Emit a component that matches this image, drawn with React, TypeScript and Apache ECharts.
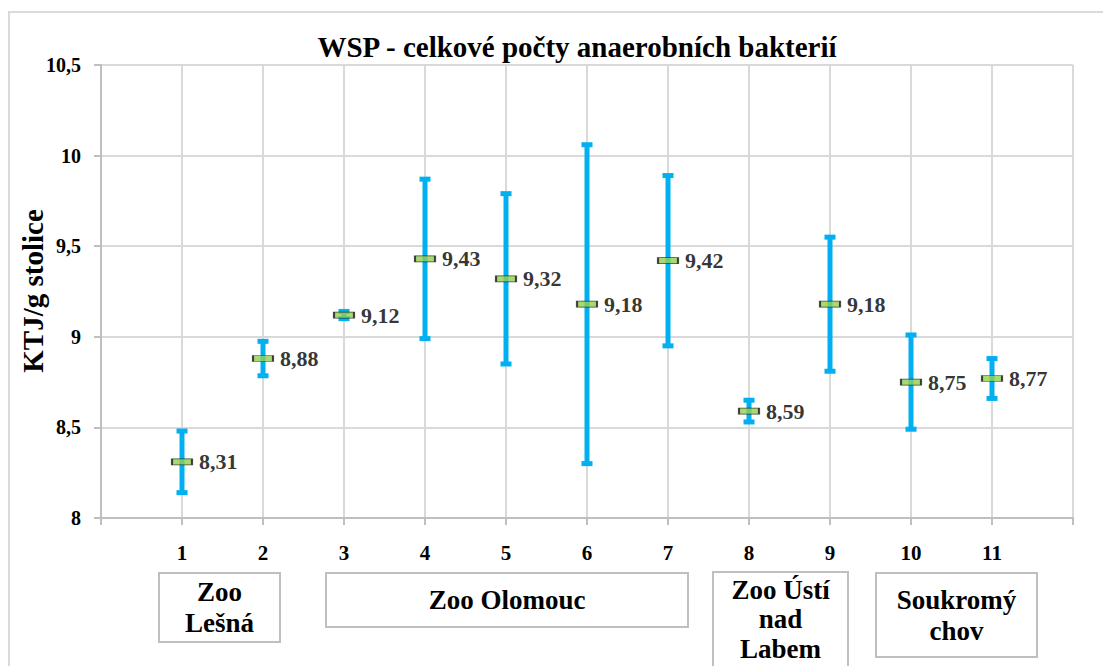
import React, { useEffect, useRef } from "react";
import * as echarts from "echarts";

const categories = [1, 2, 3, 4, 5, 6, 7, 8, 9, 10, 11];
const means = [8.31, 8.88, 9.12, 9.43, 9.32, 9.18, 9.42, 8.59, 9.18, 8.75, 8.77];
const errors = [0.17, 0.095, 0.02, 0.44, 0.47, 0.88, 0.47, 0.06, 0.37, 0.26, 0.11];
const yTicks = { min: 8, max: 10.5, interval: 0.5 };
const titleText = "WSP - celkové počty anaerobních bakterií";
const yName = "KTJ/g stolice";
const groupLabels = ["Zoo\nLešná", "Zoo Olomouc", "Zoo Ústí\nnad\nLabem", "Soukromý\nchov"];

const FONT = "Liberation Serif";

export default function App() {
  const ref = useRef<HTMLDivElement>(null);
  useEffect(() => {
    if (!ref.current) return;
    const chart = echarts.init(ref.current, null, { renderer: "svg" });
    const errData = categories.map((c, i) => [c, means[i] - errors[i], means[i] + errors[i]]);
    const meanData = categories.map((c, i) => [c, means[i]]);
    const boxes = [
      { x: 159, y: 573, w: 121, h: 69, cy: 607.5, lh: 31, text: groupLabels[0] },
      { x: 326, y: 573, w: 362, h: 54, cy: 600, lh: 31, text: groupLabels[1] },
      { x: 713, y: 572, w: 135, h: 100, cy: 619, lh: 29.5, text: groupLabels[2] },
      { x: 876, y: 573, w: 161, h: 84, cy: 615, lh: 31, text: groupLabels[3] },
    ];
    chart.setOption({
      animation: false,
      backgroundColor: "#ffffff",
      title: {
        text: titleText,
        left: 572,
        top: 27,
        textAlign: "center",
        textStyle: { fontFamily: FONT, fontWeight: "bold", fontSize: 29, color: "#000" },
      },
      grid: { left: 101, right: 30, top: 65, bottom: 148 },
      xAxis: {
        type: "value",
        min: 0,
        max: 12,
        interval: 1,
        axisLine: { show: true, lineStyle: { color: "#bfbfbf", width: 2 } },
        axisTick: { show: true, length: 7, lineStyle: { color: "#bfbfbf", width: 2 } },
        splitLine: { show: true, lineStyle: { color: "#d9d9d9", width: 2 } },
        axisLabel: {
          margin: 24,
          fontFamily: FONT,
          fontWeight: "bold",
          fontSize: 21,
          color: "#000",
          formatter: (v: number) => (v >= 1 && v <= 11 ? String(v) : ""),
        },
      },
      yAxis: {
        type: "value",
        min: yTicks.min,
        max: yTicks.max,
        interval: yTicks.interval,
        axisLine: { show: true, lineStyle: { color: "#bfbfbf", width: 2 } },
        axisTick: { show: true, length: 7, lineStyle: { color: "#bfbfbf", width: 2 } },
        splitLine: { show: true, lineStyle: { color: "#d9d9d9", width: 2 } },
        axisLabel: {
          margin: 20,
          fontFamily: FONT,
          fontWeight: "bold",
          fontSize: 20,
          color: "#000",
          formatter: (v: number) => String(v).replace(".", ","),
        },
      },
      graphic: [
        {
          type: "rect",
          shape: { x: 9, y: 12, width: 1200, height: 800 },
          style: { fill: "none", stroke: "#d9d9d9", lineWidth: 2 },
          silent: true,
        },
        {
          type: "text",
          x: 33,
          y: 291,
          rotation: Math.PI / 2,
          style: {
            text: yName,
            fontFamily: FONT,
            fontWeight: "bold",
            fontSize: 29,
            fill: "#000",
            textAlign: "center",
            textVerticalAlign: "middle",
          },
        },
        ...boxes.flatMap((b) => [
          {
            type: "rect",
            shape: { x: b.x, y: b.y, width: b.w, height: b.h },
            style: { fill: "#fff", stroke: "#bfbfbf", lineWidth: 2 },
          },
          {
            type: "text",
            x: b.x + b.w / 2,
            y: b.cy,
            style: {
              text: b.text,
              fontFamily: FONT,
              fontWeight: "bold",
              fontSize: 27,
              lineHeight: b.lh,
              fill: "#000",
              textAlign: "center",
              textVerticalAlign: "middle",
            },
          },
        ]),
      ],
      series: [
        {
          type: "custom",
          data: errData,
          z: 2,
          renderItem: (params: any, api: any) => {
            const x = api.value(0);
            const pLo = api.coord([x, api.value(1)]);
            const pHi = api.coord([x, api.value(2)]);
            const col = "#00B0F0";
            const capW = 11;
            const capH = 5;
            return {
              type: "group",
              children: [
                {
                  type: "rect",
                  shape: { x: pHi[0] - 2.5, y: pHi[1], width: 5, height: pLo[1] - pHi[1] },
                  style: { fill: col },
                },
                {
                  type: "rect",
                  shape: { x: pHi[0] - capW / 2, y: pHi[1] - capH / 2, width: capW, height: capH },
                  style: { fill: col },
                },
                {
                  type: "rect",
                  shape: { x: pLo[0] - capW / 2, y: pLo[1] - capH / 2, width: capW, height: capH },
                  style: { fill: col },
                },
              ],
            };
          },
        },
        {
          type: "scatter",
          data: meanData,
          z: 3,
          symbol: "rect",
          symbolSize: [20, 6],
          itemStyle: { color: "#92D050", borderColor: "#1a1a1a", borderWidth: 1.2 },
          label: {
            show: true,
            position: "right",
            distance: 6,
            fontFamily: FONT,
            fontWeight: "bold",
            fontSize: 22,
            color: "#000",
            formatter: (p: any) => p.value[1].toFixed(2).replace(".", ","),
          },
        },
      ],
    });
    return () => chart.dispose();
  }, []);
  return (
    <div
      ref={ref}
      style={{ position: "fixed", left: 0, top: 0, width: 1103, height: 666, background: "#fff" }}
    />
  );
}
